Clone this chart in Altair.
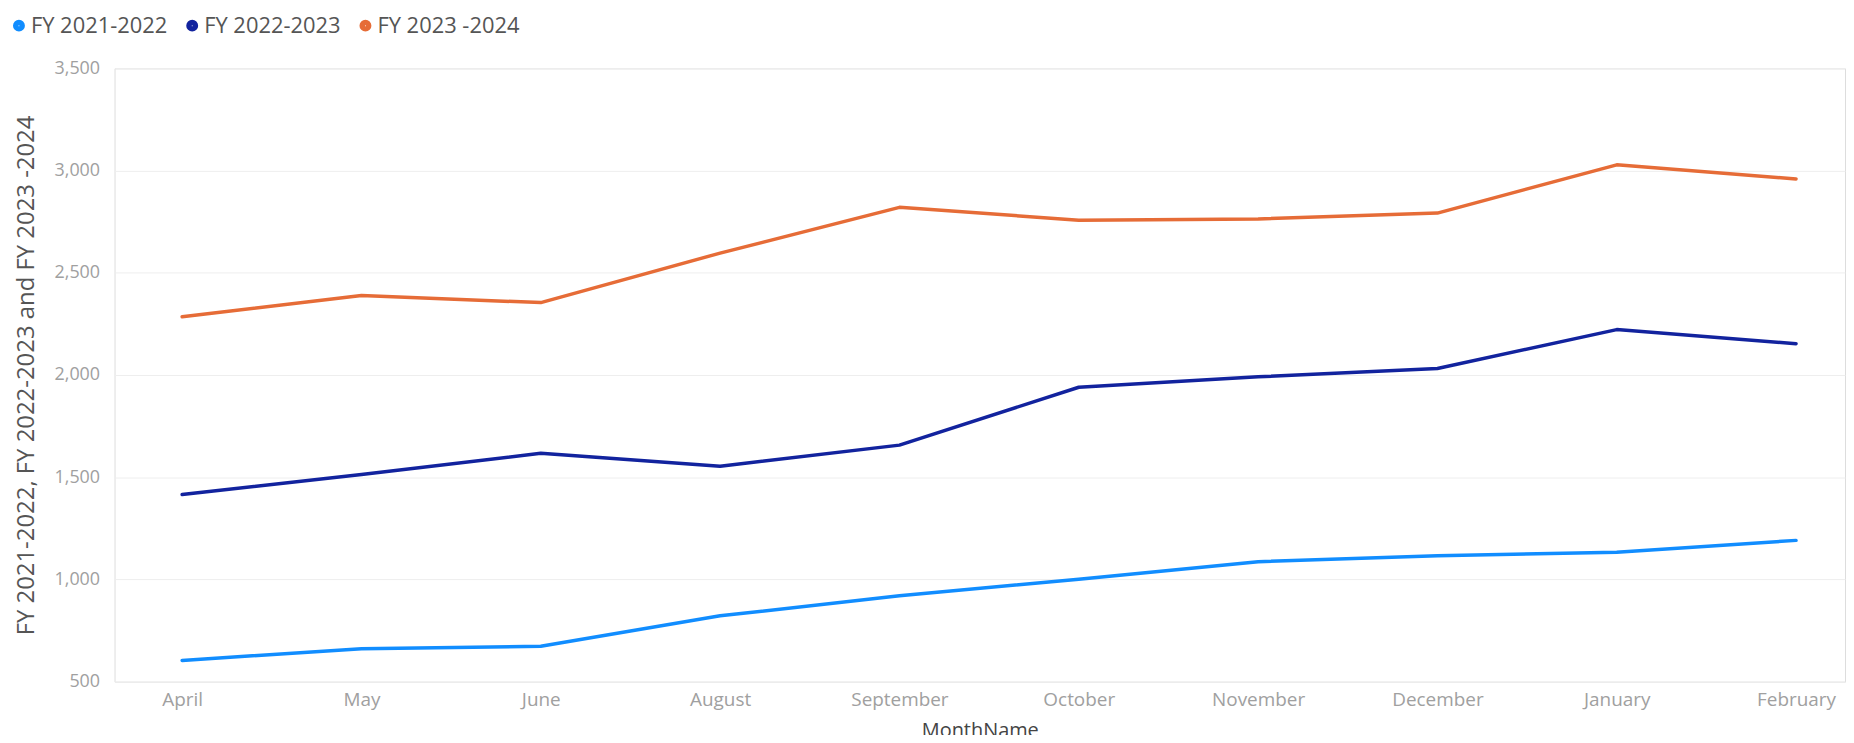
import altair as alt
import pandas as pd

months = ["April", "May", "June", "August", "September", "October",
          "November", "December", "January", "February"]
series_names = ["FY 2021-2022", "FY 2022-2023", "FY 2023 -2024"]
fy2122 = [604, 661, 673, 822, 920, 1001, 1087, 1116, 1133, 1191]
fy2223 = [1415, 1513, 1617, 1554, 1657, 1940, 1991, 2032, 2222, 2153]
fy2324 = [2285, 2389, 2354, 2596, 2820, 2757, 2763, 2792, 3028, 2959]
colors = ["#118DFF", "#12239E", "#E66C37"]
y_ticks = [500, 1000, 1500, 2000, 2500, 3000, 3500]

rows = []
for name, vals in zip(series_names, [fy2122, fy2223, fy2324]):
    for m, v in zip(months, vals):
        rows.append({"MonthName": m, "Series": name, "Value": v})
df = pd.DataFrame(rows)

FONT = "Open Sans"

chart = alt.Chart(df).mark_line(strokeWidth=3.5, strokeJoin="round", strokeCap="round").encode(
    x=alt.X("MonthName:N", sort=months,
            scale=alt.Scale(type="point", padding=0.325, align=0.58),
            axis=alt.Axis(title="MonthName", labelAngle=0, grid=False, domain=False, ticks=False,
                          labelPadding=9, labelFontSize=19, labelColor="#a0a0a0",
                          labelFont=FONT, titleFont=FONT, titleFontSize=20,
                          titleFontWeight="normal", titleColor="#444444",
                          titleY=39, titleBaseline="top")),
    y=alt.Y("Value:Q", scale=alt.Scale(domain=[500, 3500], nice=False, zero=False),
            axis=alt.Axis(title="FY 2021-2022, FY 2022-2023 and FY 2023 -2024",
                          values=y_ticks, format=",.0f", grid=True, gridColor="#eeeeee",
                          gridWidth=1, domain=False, ticks=False, labelPadding=15,
                          labelFontSize=18, labelColor="#a0a0a0", labelFont=FONT,
                          titleFont=FONT, titleFontSize=24, titleFontWeight="normal",
                          titleColor="#555555", titleAngle=-90, titleX=-88, titleY=308,
                          titleAlign="center", titleBaseline="middle")),
    color=alt.Color("Series:N", sort=series_names,
                    scale=alt.Scale(domain=series_names, range=colors),
                    legend=alt.Legend(title=None, orient="none", direction="horizontal",
                                      legendX=-107, legendY=-54, symbolType="circle",
                                      symbolSize=30, symbolStrokeWidth=6.5, labelFont=FONT,
                                      labelFontSize=22, labelColor="#555555", labelOffset=1,
                                      columnPadding=8, padding=0)),
).properties(
    width=1738, height=616,
    autosize=alt.AutoSizeParams(type="none"),
    padding={"left": 107, "top": 59, "right": 1, "bottom": 52},
).configure_view(stroke=None).configure(background="white")

chart.save("out.html", embed_options={"renderer": "svg", "actions": False})
